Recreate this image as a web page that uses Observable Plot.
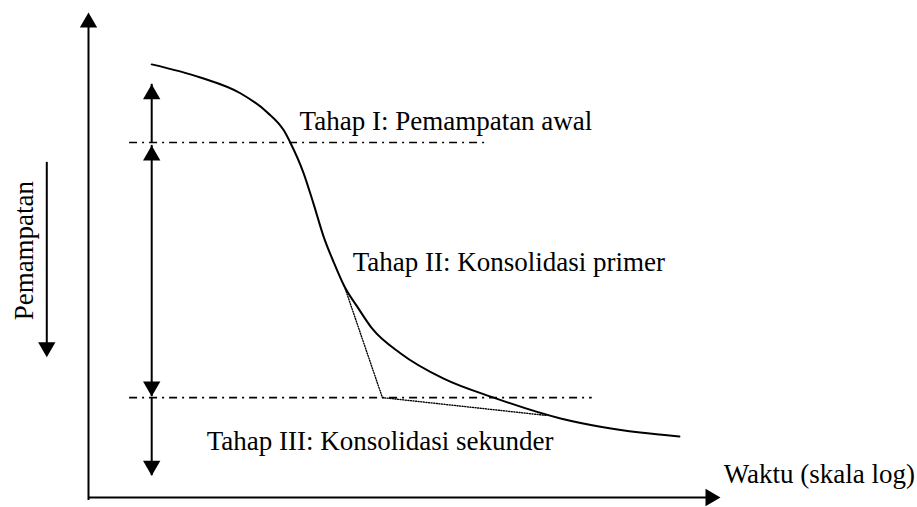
<!DOCTYPE html>
<html><head><meta charset="utf-8">
<script src="https://cdn.jsdelivr.net/npm/d3@7"></script>
<script src="https://cdn.jsdelivr.net/npm/@observablehq/plot@0.6"></script>
<style>body{margin:0;background:#fff} #chart svg{display:block}</style>
</head><body><div id="chart"></div>
<script>
// Schematic units: x = log time (0..100 along axis), y = compression (0 top .. 100 at time axis)
const curveX = [10.0, 17.7, 24.1, 28.3, 30.9, 32.0, 34.0, 35.6, 37.2, 38.8, 40.5, 42.6, 44.9, 49.4, 56.2, 64.1, 74.7, 81.0, 87.3, 93.5];
const curveY = [10.7, 13.4, 16.7, 20.6, 24.3, 27.0, 33.0, 39.4, 46.2, 51.5, 56.5, 60.8, 65.2, 70.3, 75.5, 79.4, 83.7, 85.4, 86.6, 87.4];

// stage boundary lines (dash-dot)
const boundY = [26.8, 79.4];
const boundX1 = [6.5, 6.5];
const boundX2 = [63.3, 79.7];

// construction lines (dotted)
const dotX = [40.5, 46.5, 72.6];
const dotY = [56.5, 79.4, 83.1];

// stage arrows
const stageArrowX = 10.0;
const stageArrowY1 = [14.8, 27.4, 79.4];
const stageArrowY2 = [26.8, 79.2, 95.5];

// compression direction arrow
const compArrowX = -6.6;
const compArrowY = [30.9, 71.1];

// labels
const labels = ["Tahap I: Pemampatan awal", "Tahap II: Konsolidasi primer", "Tahap III: Konsolidasi sekunder", "Waktu (skala log)"];
const labelX = [33.4, 41.8, 18.7, 100.5];
const labelY = [22.5, 51.6, 88.5, 95.3];
const yLabel = "Pemampatan";
const yLabelX = -10.2, yLabelY = 49.1;

const curve = curveX.map((x, i) => ({x, y: curveY[i]}));
const bounds = boundY.map((y, i) => ({y, x1: boundX1[i], x2: boundX2[i]}));
const dotted = dotX.map((x, i) => ({x, y: dotY[i]}));
const stageArrows = stageArrowY1.map((y1, i) => ({x: stageArrowX, y1, y2: stageArrowY2[i]}));
const texts = labels.map((t, i) => ({t, x: labelX[i], y: labelY[i]}));

const upHeads = [{x: 0, y: 0}, {x: stageArrowX, y: stageArrowY1[0]}, {x: stageArrowX, y: stageArrowY1[1]}];
const downHeads = [{x: stageArrowX, y: stageArrowY2[1]}, {x: stageArrowX, y: stageArrowY2[2]}, {x: compArrowX, y: compArrowY[1]}];
const rightHeads = [{x: 100, y: 100}];

const tri = {symbol: "triangle", r: 6.43, fill: "black", stroke: "none"};

const plot = Plot.plot({
  width: 917, height: 507,
  marginLeft: 88, marginRight: 197, marginTop: 12, marginBottom: 10,
  x: {domain: [0, 100], axis: null},
  y: {domain: [0, 100], reverse: true, axis: null},
  style: {fontFamily: "'Liberation Serif', 'Times New Roman', serif", background: "white", overflow: "visible"},
  marks: [
    // axes
    Plot.ruleX([0], {y1: 1.5, y2: 100.6, strokeWidth: 2, stroke: "black"}),
    Plot.ruleY([100], {x1: 0, x2: 98.5, strokeWidth: 2, stroke: "black"}),
    // boundaries
    Plot.ruleY(bounds, {y: "y", x1: "x1", x2: "x2", stroke: "black", strokeWidth: 1.6, strokeDasharray: "8,5,2,5"}),
    // dotted construction
    Plot.line(dotted, {x: "x", y: "y", stroke: "black", strokeWidth: 1.4, strokeDasharray: "1,1.6"}),
    // curve
    Plot.line(curve, {x: "x", y: "y", curve: "monotone-x", stroke: "black", strokeWidth: 2}),
    // stage arrows
    Plot.ruleX(stageArrows, {x: "x", y1: "y1", y2: "y2", stroke: "black", strokeWidth: 2}),
    Plot.ruleX([compArrowX], {y1: compArrowY[0], y2: compArrowY[1] - 1, stroke: "black", strokeWidth: 2}),
    // heads
    Plot.dot(upHeads, {x: "x", y: "y", ...tri, dy: 10}),
    Plot.dot(downHeads, {x: "x", y: "y", ...tri, rotate: 180, dy: -10}),
    Plot.dot(rightHeads, {x: "x", y: "y", ...tri, rotate: 90, dx: -10}),
    // labels
    Plot.text(texts, {x: "x", y: "y", text: "t", textAnchor: "start", fontSize: 27, fill: "black"}),
    Plot.text([yLabel], {x: yLabelX, y: yLabelY, text: d => d, rotate: -90, fontSize: 27, fill: "black"})
  ]
});
document.getElementById("chart").append(plot);
</script>
</body></html>
